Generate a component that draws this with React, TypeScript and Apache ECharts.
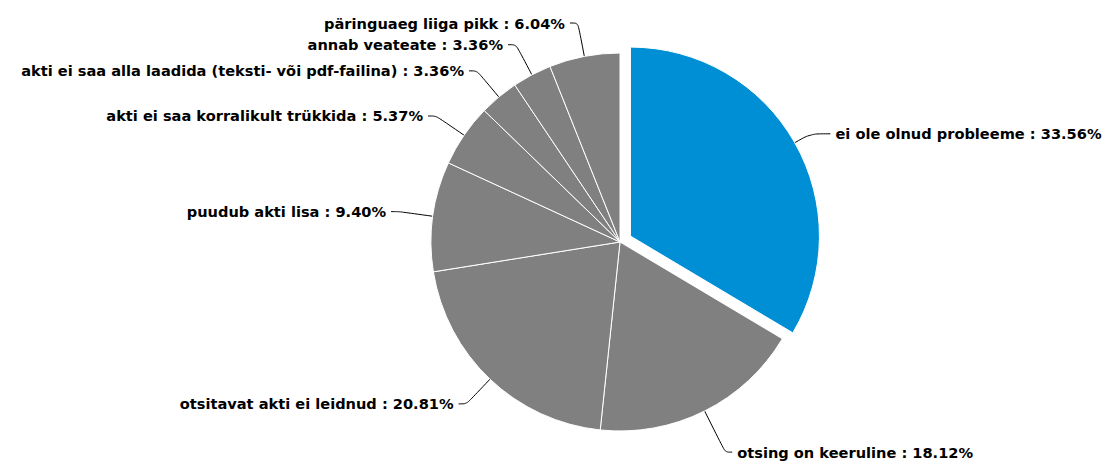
import React, { useEffect, useRef } from "react";
import * as echarts from "echarts";

const categories = [
  "ei ole olnud probleeme",
  "otsing on keeruline",
  "otsitavat akti ei leidnud",
  "puudub akti lisa",
  "akti ei saa korralikult trükkida",
  "akti ei saa alla laadida (teksti- või pdf-failina)",
  "annab veateate",
  "päringuaeg liiga pikk",
];
const percents = [33.56, 18.12, 20.81, 9.4, 5.37, 3.36, 3.36, 6.04];
const BLUE = "#008fd5";
const GRAY = "#808080";

export default function App() {
  const ref = useRef<HTMLDivElement>(null);
  useEffect(() => {
    document.body.style.margin = "0";
    const chart = echarts.init(ref.current!, undefined, { renderer: "svg" });
    const lineFor = (i: number) =>
      i === 0 ? { length: 18, length2: 20 } : i === 1 ? { length: 46, length2: 7 } : {};
    chart.setOption({
      animation: false,
      series: [
        {
          type: "pie",
          center: [620, 242],
          radius: 189,
          startAngle: 90,
          clockwise: true,
          selectedMode: "single",
          selectedOffset: 12,
          avoidLabelOverlap: true,
          itemStyle: { borderColor: "#ffffff", borderWidth: 1 },
          label: {
            show: true,
            color: "#000",
            fontFamily: "DejaVu Sans",
            fontWeight: "bold",
            fontSize: 14.6,
            distanceToLabelLine: 5,
            formatter: (p: any) => `${p.name} : ${p.value.toFixed(2)}%`,
          },
          labelLine: {
            show: true,
            length: 34,
            length2: 8,
            smooth: 0.3,
            lineStyle: { color: "#000", width: 1 },
          },
          emphasis: { disabled: true },
          data: categories.map((name, i) => ({
            name,
            value: percents[i],
            selected: i === 0,
            itemStyle: { color: i === 0 ? BLUE : GRAY },
            labelLine: lineFor(i),
          })),
        },
      ],
    });
    return () => chart.dispose();
  }, []);
  return <div ref={ref} style={{ width: 1106, height: 461 }} />;
}
